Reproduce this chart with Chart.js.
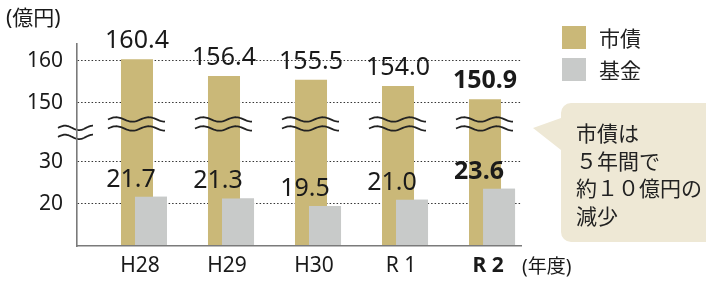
<!DOCTYPE html>
<html><head><meta charset="utf-8">
<script src="https://cdn.jsdelivr.net/npm/chart.js@4.4.1/dist/chart.umd.min.js"></script>
<style>html,body{margin:0;padding:0;background:#fff}canvas{display:block}</style>
</head><body>
<canvas id="c" width="706" height="283"></canvas>
<script>
// ---- data ----
const categories = ['H28', 'H29', 'H30', 'R 1', 'R 2'];
const bondValues = [160.4, 156.4, 155.5, 154.0, 150.9];   // 市債
const fundValues = [21.7, 21.3, 19.5, 21.0, 23.6];        // 基金
const seriesNames = ['市債', '基金'];
const yTickValues = [20, 30, 150, 160];
const yUnitLabel = '(億円)';
const xUnitLabel = '(年度)';
const calloutLines = ['市債は', '５年間で', '約１０億円の', '減少'];
const highlightIndex = 4;

// ---- styles ----
const GOLD = '#CAB878';
const GRAY = '#C8CAC9';
const TEXT = '#1a1a1a';
const FONT = "'Noto Sans', 'Noto Sans CJK JP', sans-serif";
const JFONT = "'Noto Sans CJK JP', sans-serif";

// axis break: values above 100 are drawn shifted down
const BREAK_SHIFT = 106;
const toAxis = v => (v >= 100 ? v - BREAK_SHIFT : v);

function wave(ctx, x0, x1, yc, amp, cycles) {
  ctx.beginPath();
  const n = 48;
  for (let i = 0; i <= n; i++) {
    const t = i / n;
    const x = x0 + (x1 - x0) * t;
    const y = yc - amp * Math.sin(2 * Math.PI * cycles * t);
    if (i === 0) ctx.moveTo(x, y); else ctx.lineTo(x, y);
  }
  ctx.stroke();
}

const decor = {
  id: 'decor',
  afterDatasetsDraw(chart) {
    const ctx = chart.ctx;
    const ca = chart.chartArea;
    const gold = chart.getDatasetMeta(0), gray = chart.getDatasetMeta(1);
    // fund bars sit in front of bond bars
    ctx.save();
    ctx.beginPath();
    ctx.rect(ca.left, ca.top, ca.right - ca.left, ca.bottom - ca.top);
    ctx.clip();
    gray.controller.draw();
    ctx.restore();

    const y = chart.scales.y;
    ctx.save();
    ctx.strokeStyle = '#222';
    ctx.lineWidth = 1.8;
    const by = y.getPixelForValue(39);
    gold.data.forEach(b => {
      wave(ctx, b.x - 29, b.x + 28, by - 4.5, 2.2, 1.75);
      wave(ctx, b.x - 29, b.x + 28, by + 4.5, 2.2, 1.75);
    });
    const ay = y.getPixelForValue(37);
    const ax = ca.left;
    wave(ctx, ax - 19, ax + 16, ay - 4.5, 2.2, 1.25);
    wave(ctx, ax - 19, ax + 16, ay + 4.5, 2.2, 1.25);

    ctx.fillStyle = TEXT;
    ctx.textAlign = 'center';
    ctx.textBaseline = 'alphabetic';
    gold.data.forEach((b, i) => {
      ctx.font = (i === highlightIndex ? 'bold ' : '') + '25px ' + FONT;
      ctx.fillText(bondValues[i].toFixed(1), b.x, b.y - 11);
    });
    gray.data.forEach((b, i) => {
      ctx.font = (i === highlightIndex ? 'bold ' : '') + '25px ' + FONT;
      ctx.fillText(fundValues[i].toFixed(1), gold.data[i].x - 6, b.y - 10);
    });
    ctx.restore();
  },
  afterDraw(chart) {
    const ctx = chart.ctx;
    const ca = chart.chartArea;
    ctx.save();
    // unit labels
    ctx.fillStyle = TEXT;
    ctx.textBaseline = 'middle';
    ctx.textAlign = 'left';
    ctx.font = '21px ' + FONT;
    ctx.fillText(yUnitLabel, 6, 19);
    ctx.font = '19px ' + FONT;
    ctx.fillText(xUnitLabel, ca.right + 1, 268);

    // legend
    const colors = [GOLD, GRAY];
    const lx = ca.right + 41;
    seriesNames.forEach((name, i) => {
      const top = 26 + i * 32;
      ctx.fillStyle = colors[i];
      ctx.fillRect(lx, top, 24, 23);
      ctx.fillStyle = '#222';
      ctx.font = '21px ' + JFONT;
      ctx.fillText(name, lx + 37, top + 12);
    });

    // callout
    const bx = ca.right + 40, bt = 103, bb = 242, br = 716, r = 10;
    ctx.fillStyle = '#EEE8D5';
    ctx.beginPath();
    ctx.moveTo(bx + r, bt);
    ctx.lineTo(br, bt);
    ctx.lineTo(br, bb);
    ctx.lineTo(bx + r, bb);
    ctx.arcTo(bx, bb, bx, bb - r, r);
    ctx.lineTo(bx, 150);
    ctx.lineTo(bx - 28, 128);
    ctx.lineTo(bx, 118);
    ctx.lineTo(bx, bt + r);
    ctx.arcTo(bx, bt, bx + r, bt, r);
    ctx.closePath();
    ctx.fill();
    ctx.fillStyle = '#222';
    ctx.font = '21px ' + JFONT;
    calloutLines.forEach((line, i) => {
      ctx.fillText(line, bx + 15, 133.5 + i * 27.5);
    });
    ctx.restore();
  }
};

new Chart(document.getElementById('c'), {
  type: 'bar',
  data: {
    datasets: [
      { label: seriesNames[0], data: bondValues.map((v, i) => ({ x: i, y: toAxis(v) })), backgroundColor: GOLD },
      { label: seriesNames[1], data: fundValues.map((v, i) => ({ x: i, y: toAxis(v) })), backgroundColor: GRAY }
    ]
  },
  options: {
    responsive: false,
    devicePixelRatio: 1,
    animation: false,
    categoryPercentage: 0.322,
    barPercentage: 2.286,
    borderWidth: 0,
    layout: { padding: { left: 0, right: 185, top: 44, bottom: 0 } },
    plugins: { legend: { display: false }, tooltip: { enabled: false } },
    scales: {
      x: {
        type: 'linear',
        offset: false,
        min: -0.77,
        max: 4.333,
        grid: { display: false, drawTicks: false, offset: false },
        border: { display: true, color: '#7a7a7a', width: 1.6, z: 1 },
        afterBuildTicks: s => { s.ticks = categories.map((_, i) => ({ value: i })); },
        afterFit: s => { s.height = 37; },
        ticks: {
          padding: 7,
          labelOffset: -4,
          color: TEXT,
          autoSkip: false,
          maxRotation: 0,
          font: c => ({ family: FONT, size: 21, weight: c.index === highlightIndex ? 'bold' : 'normal' }),
          callback: v => categories[v]
        }
      },
      y: {
        type: 'linear',
        min: 10,
        max: 58,
        grid: { color: '#333', lineWidth: 1, drawTicks: false },
        border: { display: true, color: '#7a7a7a', width: 1.6, dash: [1.5, 2], z: 1 },
        afterBuildTicks: s => { s.ticks = yTickValues.map(v => ({ value: toAxis(v) })); },
        afterFit: s => { s.width = 77; },
        ticks: {
          padding: 14,
          color: TEXT,
          font: { family: FONT, size: 21 },
          callback: (v, i) => String(yTickValues[i])
        }
      }
    }
  },
  plugins: [decor]
});
</script>
</body></html>
